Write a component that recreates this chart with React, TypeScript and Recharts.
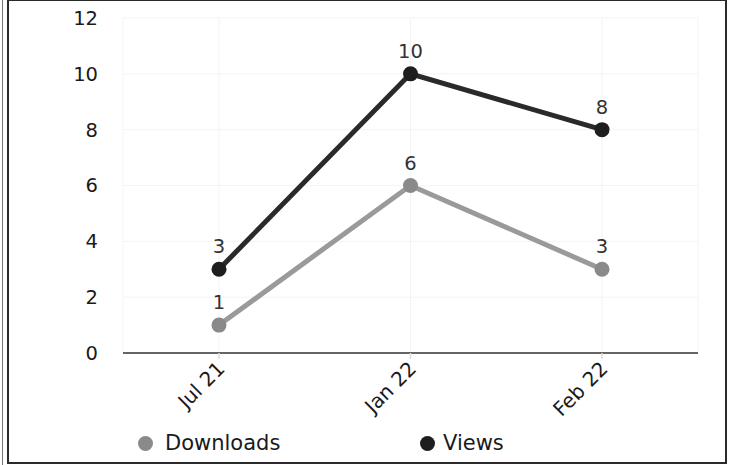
import { LineChart, Line, XAxis, YAxis, CartesianGrid, LabelList } from 'recharts';

const months = ['Jul 21', 'Jan 22', 'Feb 22'];
const downloads = [1, 6, 3];
const views = [3, 10, 8];
const yTicks = [0, 2, 4, 6, 8, 10, 12];

const FONT = '"DejaVu Sans", Verdana, sans-serif';

export default function App() {
  const data = months.map((m, i) => ({ month: m, downloads: downloads[i], views: views[i] }));

  const renderTick = (props: any) => {
    const { x, y, payload } = props;
    return (
      <text
        x={x + 7}
        y={y + 9}
        transform={`rotate(-45, ${x + 7}, ${y + 9})`}
        textAnchor="end"
        fill="#1a1a1a"
        fontSize={20}
        fontFamily={FONT}
      >
        {payload.value}
      </text>
    );
  };

  return (
    <div style={{ position: 'absolute', left: 0, top: 0, width: 729, height: 465, background: '#fff', fontFamily: FONT }}>
      <div style={{ position: 'absolute', left: 2, top: 0, width: 1, height: 465, background: '#777' }} />
      <div style={{ position: 'absolute', left: 7, top: 0, width: 716, height: 461, border: '2px solid #2a2a2a', borderTopWidth: 1 }} />
      <LineChart width={729} height={465} data={data} margin={{ top: 18, right: 31, left: 63, bottom: 52 }}>
        <CartesianGrid stroke="#f3f3f3" strokeWidth={1} />
        <XAxis
          dataKey="month"
          padding={{ left: 96, right: 96 }}
          stroke="#333"
          strokeWidth={1.5}
          tickLine={{ stroke: '#ddd' }}
          tick={renderTick}
          height={60}
          interval={0}
        />
        <YAxis
          domain={[0, 12]}
          ticks={yTicks}
          axisLine={false}
          tickLine={false}
          width={60}
          tickMargin={19}
          tick={{ fill: '#1a1a1a', fontSize: 19.5, fontFamily: FONT }}
        />
        <Line
          dataKey="downloads"
          stroke="#9a9a9a"
          strokeWidth={5}
          dot={{ r: 7.5, fill: '#8a8a8a', stroke: '#8a8a8a', strokeWidth: 0 }}
          isAnimationActive={false}
        >
          <LabelList dataKey="downloads" position="top" offset={16} fill="#333" fontSize={19.5} fontFamily={FONT} />
        </Line>
        <Line
          dataKey="views"
          stroke="#2a2a2a"
          strokeWidth={5}
          dot={{ r: 7.5, fill: '#1e1e1e', stroke: '#1e1e1e', strokeWidth: 0 }}
          isAnimationActive={false}
        >
          <LabelList dataKey="views" position="top" offset={16} fill="#333" fontSize={19.5} fontFamily={FONT} />
        </Line>
      </LineChart>
      <div style={{ position: 'absolute', left: 138, top: 431, display: 'flex', fontSize: 21, color: '#1a1a1a' }}>
        <div style={{ width: 282, display: 'flex', alignItems: 'center' }}>
          <span style={{ width: 15, height: 15, borderRadius: '50%', background: '#8a8a8a', marginRight: 12 }} />
          Downloads
        </div>
        <div style={{ display: 'flex', alignItems: 'center' }}>
          <span style={{ width: 15, height: 15, borderRadius: '50%', background: '#1e1e1e', marginRight: 8 }} />
          Views
        </div>
      </div>
    </div>
  );
}
